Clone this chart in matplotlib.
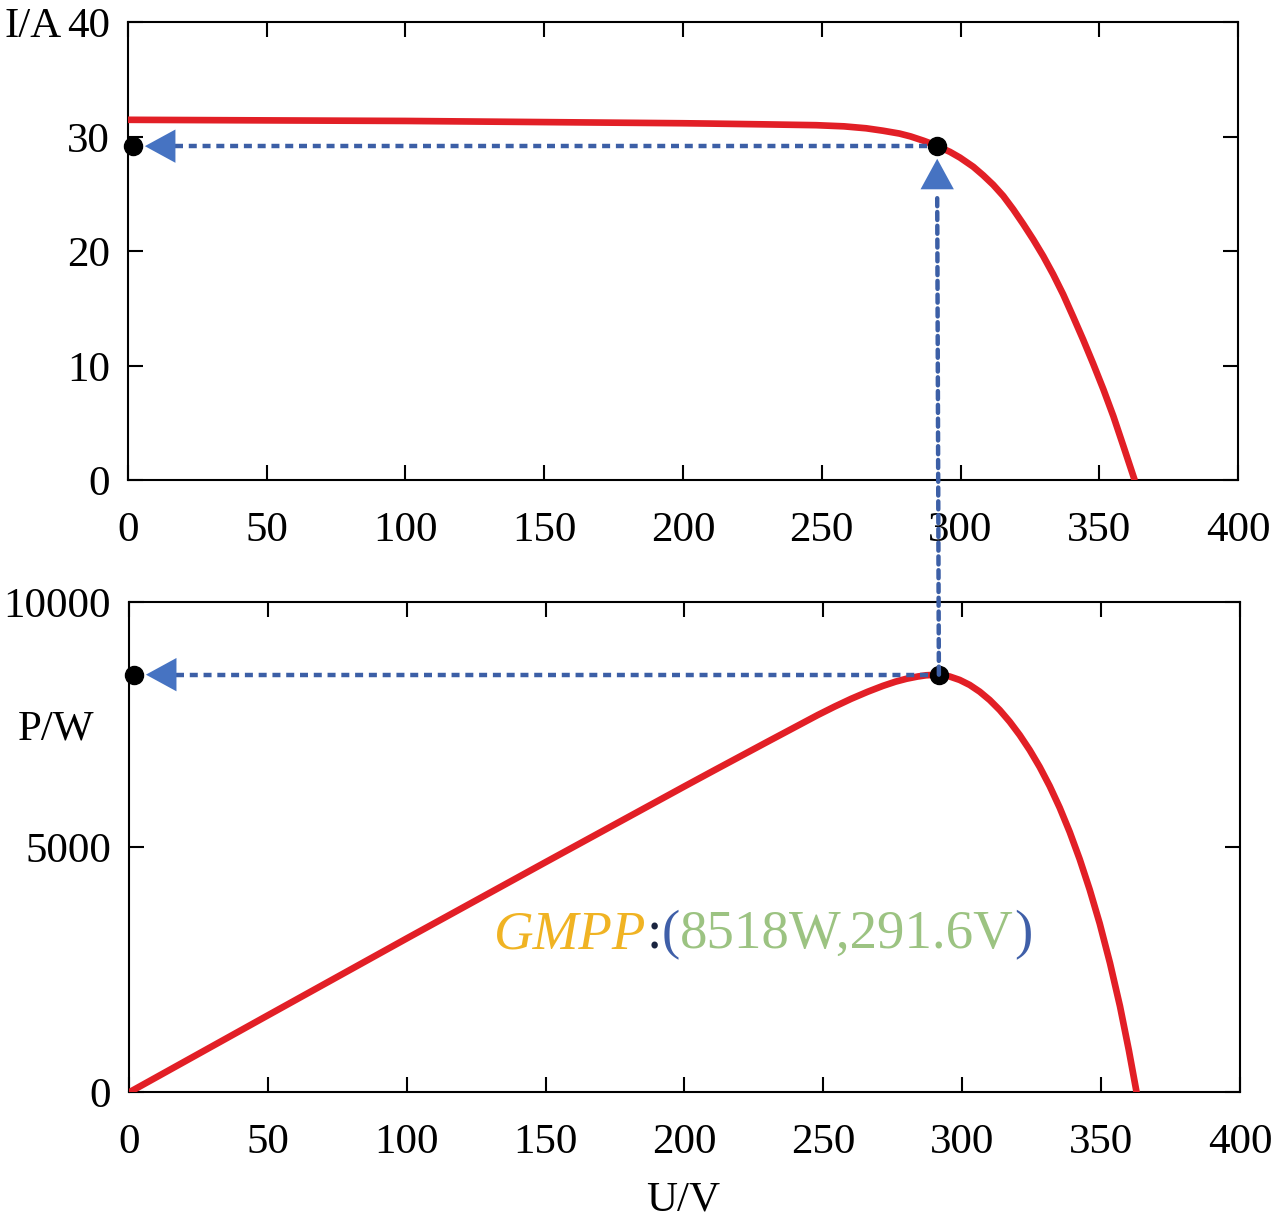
import matplotlib
matplotlib.use("Agg")
import matplotlib.pyplot as plt
from matplotlib.patches import ConnectionPatch

plt.rcParams['font.family'] = 'serif'
plt.rcParams['font.serif'] = ['Liberation Serif', 'DejaVu Serif']

# I-U curve of the array
u_iv = [0, 50, 100, 150, 200, 210, 230, 248, 258, 266, 272, 278, 282, 286.6, 289.5, 291.6,
        296.2, 299.8, 304.6, 308.2, 311.8, 315.4, 319.0, 322.6, 326.2, 329.8,
        333.4, 337.0, 340.6, 344.2, 347.8, 351.5, 355.1, 358.7, 362.8]
i_iv = [31.5, 31.45, 31.4, 31.3, 31.2, 31.17, 31.1, 31.03, 30.93, 30.76, 30.55, 30.3, 30.05, 29.68, 29.42, 29.2,
        28.7, 28.2, 27.4, 26.65, 25.82, 24.85, 23.68, 22.4, 21.05, 19.6,
        18.0, 16.25, 14.3, 12.3, 10.2, 7.95, 5.6, 3.0, 0]

# P-U curve of the array
u_pv = [0, 50, 100, 150, 200, 210, 230, 248, 254, 260, 266, 271.5, 276, 280, 284, 287, 291.6,
        295.5, 299.1, 302.7, 306.3, 309.9, 313.5, 317.1, 320.7, 324.3, 327.9,
        331.5, 335.1, 338.7, 342.3, 345.9, 349.5, 353.2, 356.8, 360.0, 362.8]
p_pv = [0, 1572, 3140, 4695, 6240, 6546, 7153, 7695, 7865, 8025, 8170, 8290, 8375, 8435, 8480, 8505, 8518,
        8480, 8410, 8308, 8171, 8001, 7797, 7559, 7287, 6981, 6636,
        6246, 5806, 5311, 4756, 4136, 3446, 2640, 1760, 860, 0]

# global maximum power point
u_mpp = 291.6
p_mpp = 8518
i_mpp = 29.2

x_ticks = [0, 50, 100, 150, 200, 250, 300, 350, 400]
i_ticks = [0, 10, 20, 30, 40]
p_ticks = [0, 5000, 10000]

RED = '#e21f26'
DOT_BLUE = '#3c5fa6'
HEAD_BLUE = '#4673c2'
FS = 31

fig = plt.figure(figsize=(12.82, 12.22), dpi=100)
ax1 = fig.add_axes([0.0998, 0.6068, 0.8659, 0.3748])
ax2 = fig.add_axes([0.1006, 0.1060, 0.8666, 0.4014])


def style_axis(ax, yticks, ylim):
    ax.set_xlim(0, 400)
    ax.set_ylim(*ylim)
    ax.set_xticks(x_ticks)
    ax.set_yticks(yticks)
    ax.tick_params(direction='in', length=10.5, width=1.5, top=True, right=True,
                   labelsize=FS, color='black')
    ax.tick_params(axis='x', pad=22)
    ax.tick_params(axis='y', pad=13)
    for s in ax.spines.values():
        s.set_linewidth(1.5)


style_axis(ax1, i_ticks, (0, 40))
style_axis(ax2, p_ticks, (0, 10000))

dash = (0, (1.8, 1.3))
ax1.plot(u_iv, i_iv, color=RED, lw=4.8, solid_capstyle='butt', solid_joinstyle='round', zorder=3)
ax2.plot(u_pv, p_pv, color=RED, lw=4.8, solid_capstyle='butt', solid_joinstyle='round', zorder=3)

# horizontal guides to the y axes
ax1.plot([17, u_mpp], [i_mpp, i_mpp], color=DOT_BLUE, lw=3.2, ls=dash, zorder=4)
ax2.plot([17, u_mpp], [p_mpp, p_mpp], color=DOT_BLUE, lw=3.2, ls=dash, zorder=4)

# vertical guide from the P-U peak up to the I-U curve
con = ConnectionPatch(xyA=(u_mpp, p_mpp), coordsA=ax2.transData,
                      xyB=(u_mpp, 25.1), coordsB=ax1.transData,
                      color=DOT_BLUE, lw=3.2, linestyle=dash, zorder=4)
fig.add_artist(con)


def head(ax, xy, dx, dy):
    ax.annotate('', xy=xy, xytext=(dx, dy), textcoords='offset points',
                arrowprops=dict(width=0.01, headwidth=24, headlength=22, shrink=0,
                                facecolor=HEAD_BLUE, edgecolor='none'),
                annotation_clip=False, zorder=5)


head(ax1, (6.1, i_mpp), 22, 0)
head(ax2, (6.1, p_mpp), 22, 0)
head(ax1, (u_mpp, 28.1), 0, -22)

for ax, y in ((ax1, i_mpp), (ax2, p_mpp)):
    ax.plot([1.8, u_mpp], [y, y], 'o', color='black', ms=13, zorder=6, clip_on=False)

# GMPP label in several colours
parts = [('GMPP', '#f0b323', 'italic'), (':', '#1b2540', 'normal'),
         ('(', '#3f5fa8', 'normal'), ('8518W,291.6V', '#9cc382', 'normal'),
         (')', '#3f5fa8', 'normal')]
prev = None
for s, c, st in parts:
    if prev is None:
        prev = ax2.text(131.5, 2700, s, color=c, fontstyle=st, fontsize=39.5,
                        va='bottom', ha='left')
    else:
        prev = ax2.annotate(s, xy=(1, 0), xycoords=prev, color=c, fontstyle=st,
                            fontsize=39.5, va='bottom', ha='left')

fig.text(4 / 1282, 1 - 27 / 1222, 'I/A', fontsize=FS, ha='left', va='center')
fig.text(18 / 1282, 1 - 729 / 1222, 'P/W', fontsize=FS, ha='left', va='center')
fig.text(683 / 1282, 1 - 1200 / 1222, 'U/V', fontsize=FS, ha='center', va='center')

fig.savefig('out.png', dpi=100)
